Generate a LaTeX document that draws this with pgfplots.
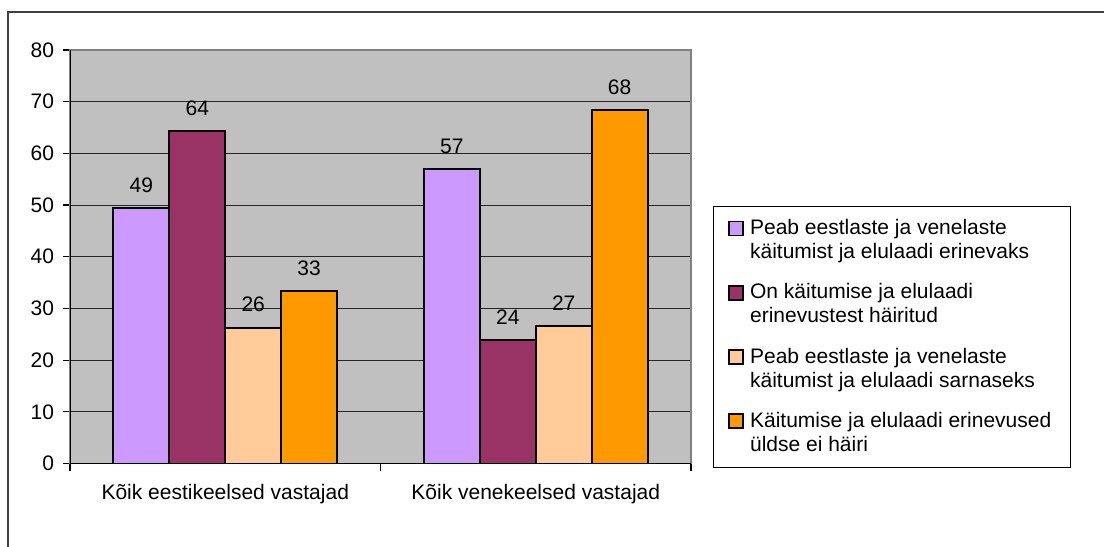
\documentclass[border=0pt]{standalone}
\usepackage{pgfplots}
\pgfplotsset{compat=1.18}
\usepackage{fontspec}
\setmainfont{Liberation Sans}
\definecolor{cA}{HTML}{CC99FF}
\definecolor{cB}{HTML}{993366}
\definecolor{cC}{HTML}{FFCC99}
\definecolor{cD}{HTML}{FF9900}
\definecolor{plotbg}{HTML}{C0C0C0}
\newcommand{\fs}{\fontsize{10.5bp}{12bp}\selectfont}
\pgfplotsset{sq/.style={legend image code/.code={\draw[##1, draw=black, line width=0.8bp] (0bp,2.5bp) rectangle (7bp,9.5bp); \path[draw=none, fill=none] (7bp,6bp) -- (8.5bp,6bp);}}}
\begin{document}
\begin{tikzpicture}
\path[use as bounding box] (0,0) rectangle (552bp,-273.5bp);
\draw[color=black!75, line width=0.8bp] (4bp,-290bp) -- (4bp,-6bp) -- (570bp,-6bp);
\begin{axis}[
  at={(35bp,-231.75bp)}, anchor=south west,
  scale only axis, width=310.5bp, height=206.75bp,
  ymin=0, ymax=80, xmin=0, xmax=2,
  ytick={0,10,...,80},
  ymajorgrids, grid style={black!85, line width=0.5bp},
  axis background/.style={fill=plotbg},
  axis line style={draw=black!50, line width=0.8bp},
  tick align=outside, tick pos=left,
  major tick length=3.5bp,
  tick style={black, line width=0.6bp},
  xtick={0,1,2}, xticklabels={},
  extra x ticks={0.5,1.5},
  extra x tick labels={Kõik eestikeelsed vastajad, Kõik venekeelsed vastajad},
  extra x tick style={major tick length=0pt},
  xticklabel style={font=\fs, yshift=-7bp},
  yticklabel style={font=\fs, xshift=-1bp},
  /pgf/number format/assume math mode=true,
  ybar=0pt, bar width=0.18,
  nodes near coords={\pgfmathprintnumber[fixed,precision=0]{\pgfplotspointmeta}},
  nodes near coords style={font=\fs, anchor=south, inner sep=0pt, yshift=7.25bp, black},
  legend style={at={(1.035,0.623)}, anchor=north west, draw=black, fill=white,
    line width=0.6bp, inner xsep=7.5bp, inner ysep=4.5bp, row sep=7bp, font=\fs,
    cells={align=left}},
  legend cell align=left,
]
\addplot[sq, fill=cA, draw=black, line width=1bp] coordinates {(0.5,49.4) (1.5,56.9)};
\addplot[sq, fill=cB, draw=black, line width=1bp] coordinates {(0.5,64.3) (1.5,23.8)};
\addplot[sq, fill=cC, draw=black, line width=1bp] coordinates {(0.5,26.3) (1.5,26.6)};
\addplot[sq, fill=cD, draw=black, line width=1bp] coordinates {(0.5,33.3) (1.5,68.4)};
\legend{Peab eestlaste ja venelaste\\käitumist ja elulaadi erinevaks,
On käitumise ja elulaadi\\erinevustest häiritud,
Peab eestlaste ja venelaste\\käitumist ja elulaadi sarnaseks,
Käitumise ja elulaadi erinevused\\üldse ei häiri}
\draw[black, line width=0.8bp] (rel axis cs:0,1) -- (rel axis cs:0,0) -- (rel axis cs:1,0);
\end{axis}
\end{tikzpicture}
\end{document}
